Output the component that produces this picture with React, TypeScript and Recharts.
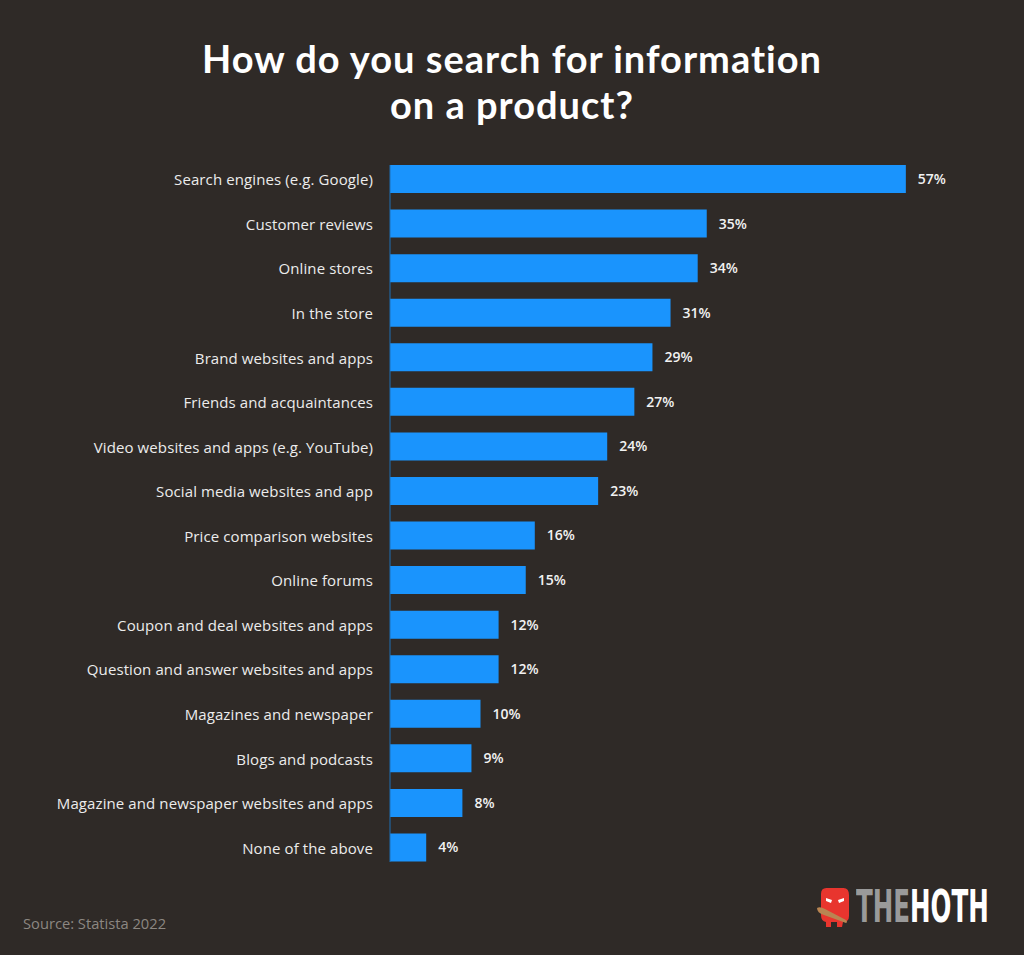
import React from 'react';
import { BarChart, Bar, XAxis, YAxis, LabelList } from 'recharts';

const categories = [
  'Search engines (e.g. Google)',
  'Customer reviews',
  'Online stores',
  'In the store',
  'Brand websites and apps',
  'Friends and acquaintances',
  'Video websites and apps (e.g. YouTube)',
  'Social media websites and app',
  'Price comparison websites',
  'Online forums',
  'Coupon and deal websites and apps',
  'Question and answer websites and apps',
  'Magazines and newspaper ',
  'Blogs and podcasts',
  'Magazine and newspaper websites and apps',
  'None of the above',
];
const shares = [57, 35, 34, 31, 29, 27, 24, 23, 16, 15, 12, 12, 10, 9, 8, 4];

const data = categories.map((name, i) => ({ name, value: shares[i] }));

const BG = '#2f2a27';
const BLUE = '#1a94fd';

const CategoryTick = (props: any) => {
  const { y, payload } = props;
  return (
    <text x={373} y={y} dy={6} textAnchor="end" fill="#ececec" fontSize={15} letterSpacing={0.1} fontFamily="'Open Sans', sans-serif" fontWeight={500}>
      {payload.value}
    </text>
  );
};

const Monster = () => (
  <svg width={36} height={42} viewBox="0 0 36 42" style={{ position: 'absolute', left: 816, top: 886 }}>
    <path d="M5 8 Q5 1 12 2 L26 2 Q33 1 33 9 L33 30 Q33 36 27 36 L26 41 L21 41 L21 36 L15 36 L15 41 L10 41 L10 36 Q5 35 5 29 Z" fill="#e8352e" />
    <path d="M10 12 L16 14 L15 17 L10 15 Z" fill="#fff" />
    <path d="M28 12 L22 14 L23 17 L28 15 Z" fill="#fff" />
    <path d="M1 22 Q4 20 9 23 L30 34 Q32 36 30 37 L8 29 Q1 27 1 22 Z" fill="#b98552" />
  </svg>
);

export default function App() {
  return (
    <div style={{ position: 'absolute', left: 0, top: 0, width: 1024, height: 955, background: BG, overflow: 'hidden' }}>
      <div style={{ position: 'absolute', left: 0, top: 35, width: 1024, textAlign: 'center', color: '#ffffff', fontFamily: 'Lato, sans-serif', fontWeight: 700, fontSize: 38, lineHeight: '46px', letterSpacing: 1 }}>
        How do you search for information<br />on a product?
      </div>
      <BarChart
        width={1024}
        height={955}
        data={data}
        layout="vertical"
        margin={{ top: 165, right: 91, bottom: 93, left: 0 }}
        barSize={28}
      >
        <XAxis type="number" domain={[0, 60]} hide />
        <YAxis
          type="category"
          dataKey="name"
          width={390}
          tickLine={false}
          axisLine={{ stroke: '#1e6fb5', strokeWidth: 1 }}
          tick={<CategoryTick />}
          interval={0}
          padding={{ top: -8, bottom: -8 }}
        />
        <Bar dataKey="value" fill={BLUE} isAnimationActive={false}>
          <LabelList
            dataKey="value"
            position="right"
            offset={12}
            fill="#f2f2f2"
            fontSize={14}
            fontWeight={600}
            fontFamily="'Open Sans', sans-serif"
            formatter={(v: any) => `${v}%`}
          />
        </Bar>
      </BarChart>
      <div style={{ position: 'absolute', left: 23, top: 913, color: '#8c8782', fontFamily: "'Open Sans', sans-serif", fontSize: 14.7 }}>
        Source: Statista 2022
      </div>
      <Monster />
      <div
        style={{
          position: 'absolute',
          left: 856,
          top: 882,
          whiteSpace: 'nowrap',
          fontFamily: "'DejaVu Sans Condensed', 'DejaVu Sans', sans-serif",
          fontWeight: 700,
          fontSize: 44,
          lineHeight: '50px',
          transform: 'scaleX(0.62)',
          transformOrigin: 'left top',
        }}
      >
        <span style={{ color: '#9a9a9a' }}>THE</span>
        <span style={{ color: '#ffffff' }}>HOTH</span>
      </div>
    </div>
  );
}
